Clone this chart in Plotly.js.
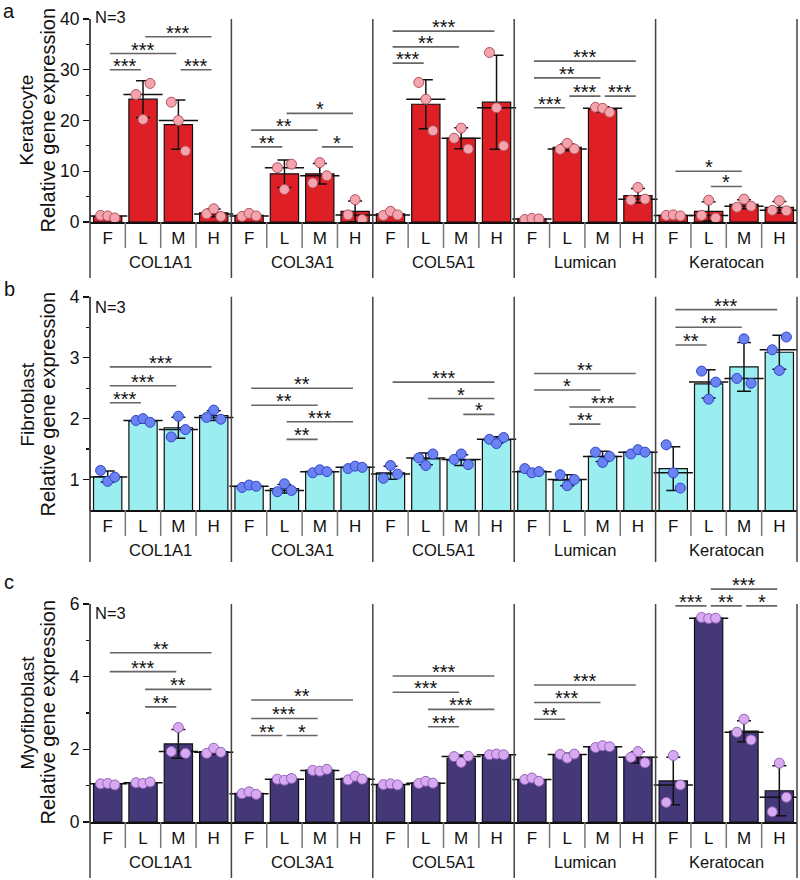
<!DOCTYPE html>
<html><head><meta charset="utf-8">
<script src="https://cdn.plot.ly/plotly-3.0.1.min.js"></script>
<style>html,body{margin:0;padding:0;background:#fff}#chart{width:800px;height:880px}</style>
</head><body><div id="chart"></div>
<script>
// ---------------- DATA ----------------
const genes = ['COL1A1', 'COL3A1', 'COL5A1', 'Lumican', 'Keratocan'];
const groups = ['F', 'L', 'M', 'H'];

// bar heights (mean), in order gene x group
const keratocyteMean = [1.1, 24.2, 19.2, 1.8,  1.3, 9.5, 9.5, 2.1,  1.6, 23.2, 16.5, 23.6,  0.6, 14.7, 22.2, 5.2,  1.3, 2.1, 3.5, 2.9];
const keratocytePoints = [
  [1.3, 1.2, 0.8], [25.1, 20.2, 27.3], [23.6, 20.0, 14.0], [1.6, 2.6, 1.1],
  [1.1, 1.7, 1.2], [10.7, 6.4, 11.4], [7.7, 11.7, 9.1], [1.4, 4.4, 0.5],
  [1.3, 2.1, 1.4], [27.5, 24.2, 18.0], [16.5, 18.5, 14.4], [33.4, 22.5, 15.0],
  [0.5, 0.7, 0.6], [14.3, 15.5, 14.4], [22.6, 22.4, 21.6], [4.3, 6.8, 4.5],
  [1.3, 1.4, 1.2], [1.3, 4.3, 0.8], [2.9, 4.5, 3.1], [2.3, 4.2, 2.2]
];
// [gene, from group, to group, bracket height, label]
const keratocyteSig = [
  [0, 0, 1, 30.0, '***'], [0, 0, 2, 33.2, '***'], [0, 1, 3, 36.5, '***'], [0, 2, 3, 30.0, '***'],
  [1, 0, 1, 14.8, '**'], [1, 0, 2, 18.1, '**'], [1, 1, 3, 21.4, '*'], [1, 2, 3, 14.8, '*'],
  [2, 0, 1, 31.3, '***'], [2, 0, 2, 34.5, '**'], [2, 0, 3, 37.6, '***'],
  [3, 0, 1, 22.5, '***'], [3, 1, 2, 24.8, '***'], [3, 2, 3, 24.8, '***'], [3, 0, 2, 28.4, '**'], [3, 0, 3, 31.7, '***'],
  [4, 0, 2, 10.0, '*'], [4, 1, 2, 7.0, '*']
];

const fibroblastMean = [1.05, 1.96, 1.85, 2.05,  0.89, 0.85, 1.135, 1.20,  1.11, 1.34, 1.32, 1.65,  1.14, 0.99, 1.38, 1.45,  1.18, 2.57, 2.85, 3.09];
const fibroblastPoints = [
  [1.15, 0.97, 1.04], [1.97, 2.00, 1.94], [1.70, 2.04, 1.82], [2.02, 2.14, 1.99],
  [0.87, 0.91, 0.89], [0.80, 0.93, 0.82], [1.11, 1.16, 1.13], [1.18, 1.22, 1.20],
  [1.02, 1.23, 1.09], [1.355, 1.23, 1.42], [1.33, 1.42, 1.245], [1.66, 1.59, 1.69],
  [1.18, 1.11, 1.13], [1.08, 0.90, 1.00], [1.45, 1.28, 1.38], [1.42, 1.49, 1.45],
  [1.57, 1.11, 0.86], [2.78, 2.32, 2.60], [2.66, 3.31, 2.58], [3.13, 2.79, 3.34]
];
const fibroblastSig = [
  [0, 0, 1, 2.26, '***'], [0, 0, 2, 2.54, '***'], [0, 0, 3, 2.85, '***'],
  [1, 0, 3, 2.50, '**'], [1, 0, 2, 2.22, '**'], [1, 1, 3, 1.95, '***'], [1, 1, 2, 1.66, '**'],
  [2, 0, 3, 2.60, '***'], [2, 1, 3, 2.33, '*'], [2, 2, 3, 2.07, '*'],
  [3, 0, 3, 2.74, '**'], [3, 0, 2, 2.47, '*'], [3, 1, 3, 2.19, '***'], [3, 1, 2, 1.91, '**'],
  [4, 0, 3, 3.79, '***'], [4, 0, 2, 3.50, '**'], [4, 0, 1, 3.21, '**']
];

const myofibroblastMean = [1.04, 1.08, 2.15, 1.94,  0.79, 1.175, 1.43, 1.20,  1.03, 1.08, 1.75, 1.85,  1.16, 1.83, 2.07, 1.78,  1.13, 5.61, 2.50, 0.86];
const myofibroblastPoints = [
  [1.05, 1.06, 1.02], [1.08, 1.06, 1.10], [1.94, 2.60, 1.89], [1.89, 2.03, 1.92],
  [0.78, 0.83, 0.76], [1.18, 1.15, 1.20], [1.42, 1.40, 1.45], [1.16, 1.26, 1.18],
  [1.03, 1.05, 1.02], [1.06, 1.12, 1.07], [1.80, 1.64, 1.81], [1.85, 1.87, 1.85],
  [1.17, 1.21, 1.12], [1.86, 1.76, 1.87], [2.05, 2.10, 2.07], [1.78, 1.94, 1.63],
  [0.54, 1.83, 1.02], [5.63, 5.60, 5.61], [2.47, 2.83, 2.26], [0.28, 1.62, 0.68]
];
const myofibroblastSig = [
  [0, 0, 3, 4.66, '**'], [0, 0, 2, 4.14, '***'], [0, 1, 3, 3.65, '**'], [0, 1, 2, 3.17, '**'],
  [1, 0, 3, 3.36, '**'], [1, 0, 2, 2.85, '***'], [1, 0, 1, 2.38, '**'], [1, 1, 2, 2.38, '*'],
  [2, 0, 3, 4.02, '***'], [2, 0, 2, 3.57, '***'], [2, 1, 3, 3.10, '***'], [2, 1, 2, 2.62, '***'],
  [3, 0, 3, 3.77, '***'], [3, 0, 2, 3.29, '***'], [3, 0, 1, 2.83, '**'],
  [4, 1, 3, 6.41, '***'], [4, 0, 1, 5.95, '***'], [4, 1, 2, 5.95, '**'], [4, 2, 3, 5.95, '*']
];

// ---------------- STYLE / LAYOUT ----------------
const W = 800, H = 880, ML = 90, MR = 3;
const py = p => 1 - p / H;
const pxr = p => (p - ML) / (W - ML - MR);
const FONT = 'Liberation Sans, Arial, Helvetica, sans-serif';
const INK = '#111111';
const jitter = [-0.2, 0, 0.2];

const panelStyle = [
  {key: 'a', cell: 'Keratocyte', range: [0, 42.5], axisTop: 40, major: [0, 10, 20, 30, 40], minor: [5, 15, 25, 35],
   bottomPx: 222, topPx: 6.3, stripPx: 278, titlePx: 120, letterPx: 11, nPx: 17,
   bar: '#df1f26', ptFill: '#f4a4ad', ptLine: '#b4505c'},
  {key: 'b', cell: 'Fibroblast', range: [0.5, 4.12], axisTop: 4, major: [1, 2, 3, 4], minor: [1.5, 2.5, 3.5],
   bottomPx: 510, topPx: 289.5, stripPx: 562, titlePx: 404, letterPx: 289, nPx: 307,
   bar: '#9aeef0', ptFill: '#6b82f2', ptLine: '#3446c8'},
  {key: 'c', cell: 'Myofibroblast', range: [0, 7], axisTop: 6, major: [0, 2, 4, 6], minor: [1, 3, 5],
   bottomPx: 822, topPx: 567.7, stripPx: 878, titlePx: 712, letterPx: 582, nPx: 613,
   bar: '#443878', ptFill: '#d8a8f0', ptLine: '#9064b8'}
];
const panelData = [
  [keratocyteMean, keratocytePoints, keratocyteSig],
  [fibroblastMean, fibroblastPoints, fibroblastSig],
  [myofibroblastMean, myofibroblastPoints, myofibroblastSig]
];

function sd(a) {
  const m = a.reduce((s, v) => s + v, 0) / a.length;
  return Math.sqrt(a.reduce((s, v) => s + (v - m) * (v - m), 0) / (a.length - 1));
}
function median(a) {
  const b = a.slice().sort((p, q) => p - q);
  return b[Math.floor(b.length / 2)];
}

const traces = [];
const shapes = [];
const annotations = [];
const layout = {
  width: W, height: H,
  margin: {l: ML, r: MR, t: 0, b: 0, pad: 0},
  paper_bgcolor: '#ffffff', plot_bgcolor: 'rgba(0,0,0,0)',
  showlegend: false, barmode: 'overlay',
  font: {family: FONT, color: INK, size: 16}
};

panelStyle.forEach((s, k) => {
  const sfx = k ? String(k + 1) : '';
  const xa = 'x' + sfx, ya = 'y' + sfx;
  const [mean, pts, sig] = panelData[k];
  const centers = mean.map((_, i) => i + 0.5);
  const letters = mean.map((_, i) => groups[i % 4]);

  traces.push({
    type: 'bar', x: centers, y: mean, width: 0.8, xaxis: xa, yaxis: ya,
    marker: {color: s.bar, line: {color: INK, width: 1.2}},
    error_y: {type: 'data', array: pts.map(sd), visible: true, color: INK, thickness: 1.5, width: 7},
    hoverinfo: 'skip'
  });
  traces.push({
    type: 'scatter', mode: 'markers', x: centers, y: pts.map(median), xaxis: xa, yaxis: ya,
    marker: {symbol: 'line-ew', size: 28, color: INK, line: {color: INK, width: 1.5}},
    hoverinfo: 'skip'
  });
  const qx = [], qy = [];
  pts.forEach((arr, i) => arr.forEach((v, j) => { qx.push(centers[i] + jitter[j]); qy.push(v); }));
  traces.push({
    type: 'scatter', mode: 'markers', x: qx, y: qy, xaxis: xa, yaxis: ya,
    marker: {symbol: 'circle', size: 10, color: s.ptFill, line: {color: s.ptLine, width: 1}},
    hoverinfo: 'skip'
  });

  const yDom = [py(s.bottomPx), py(s.topPx)];
  layout['xaxis' + sfx] = {
    domain: [0, 1], range: [0, 20], anchor: ya,
    tickmode: 'array', tickvals: centers, ticktext: letters, ticks: '',
    tickfont: {family: FONT, size: 17, color: INK},
    showline: true, linecolor: INK, linewidth: 1.5,
    showgrid: false, zeroline: false, fixedrange: true
  };
  layout['yaxis' + sfx] = {
    domain: yDom, range: s.range, anchor: xa,
    tickmode: 'array', tickvals: s.major, ticks: 'outside', ticklen: 6, tickwidth: 1.5, tickcolor: INK,
    minor: {tickmode: 'array', tickvals: s.minor, ticks: 'outside', ticklen: 3.5, tickwidth: 1.2, tickcolor: INK, showgrid: false},
    tickfont: {family: FONT, size: 17.5, color: INK},
    showline: false, showgrid: false, zeroline: false, fixedrange: true
  };

  // y axis line
  shapes.push({type: 'line', xref: 'paper', yref: ya, x0: 0, x1: 0, y0: s.range[0], y1: s.axisTop,
               line: {color: INK, width: 1.5}});
  // left & right edges of the category strip, right frame line
  shapes.push({type: 'line', xref: 'paper', yref: 'paper', x0: 0, x1: 0, y0: py(s.bottomPx), y1: py(s.stripPx),
               line: {color: '#444', width: 1.5}});
  shapes.push({type: 'line', xref: 'paper', yref: ya, x0: 1, x1: 1, y0: s.range[0], y1: s.axisTop,
               line: {color: '#444', width: 1.5}});
  shapes.push({type: 'line', xref: 'paper', yref: 'paper', x0: 1, x1: 1, y0: py(s.bottomPx), y1: py(s.stripPx),
               line: {color: '#444', width: 1.5}});
  // group separators
  for (let g = 1; g < genes.length; g++) {
    shapes.push({type: 'line', xref: xa, yref: ya, x0: 4 * g, x1: 4 * g, y0: s.range[0], y1: s.axisTop,
                 line: {color: '#444', width: 1.5}});
    shapes.push({type: 'line', xref: xa, yref: 'paper', x0: 4 * g, x1: 4 * g, y0: py(s.bottomPx), y1: py(s.stripPx),
                 line: {color: '#444', width: 1.5}});
  }
  // small separators between group letters
  for (let g = 0; g < genes.length; g++) {
    for (let b = 1; b < 4; b++) {
      shapes.push({type: 'line', xref: xa, yref: 'paper', x0: 4 * g + b, x1: 4 * g + b,
                   y0: py(s.bottomPx), y1: py(s.bottomPx + 26), line: {color: '#777', width: 1.5}});
    }
    annotations.push({xref: xa, yref: 'paper', x: 4 * g + 2, y: py(s.bottomPx + 40), text: genes[g],
                      showarrow: false, xanchor: 'center', yanchor: 'middle',
                      font: {family: FONT, size: 16.5, color: INK}});
  }
  // significance brackets
  sig.forEach(([g, i, j, lev, lab]) => {
    const x0 = 4 * g + i + 0.5 + 0.06, x1 = 4 * g + j + 0.5 - 0.06;
    shapes.push({type: 'line', xref: xa, yref: ya, x0: x0, x1: x1, y0: lev, y1: lev,
                 line: {color: '#666', width: 1.6}});
    annotations.push({xref: xa, yref: ya, x: (x0 + x1) / 2, y: lev, text: lab, showarrow: false,
                      xanchor: 'center', yanchor: 'middle', yshift: 4,
                      font: {family: FONT, size: 20, color: INK}});
  });
  // titles & labels
  annotations.push({xref: 'paper', yref: 'paper', x: pxr(47.5), y: py(s.titlePx), text: 'Relative gene expression',
                    textangle: -90, showarrow: false, xanchor: 'center', yanchor: 'middle',
                    font: {family: FONT, size: 20, color: INK}});
  annotations.push({xref: 'paper', yref: 'paper', x: pxr(26.5), y: py(s.titlePx), text: s.cell,
                    textangle: -90, showarrow: false, xanchor: 'center', yanchor: 'middle',
                    font: {family: FONT, size: 19, color: INK}});
  annotations.push({xref: 'paper', yref: 'paper', x: pxr(9), y: py(s.letterPx), text: s.key,
                    showarrow: false, xanchor: 'center', yanchor: 'middle',
                    font: {family: FONT, size: 20, color: INK}});
  annotations.push({xref: 'paper', yref: 'paper', x: pxr(93), y: py(s.nPx), text: 'N=3',
                    showarrow: false, xanchor: 'left', yanchor: 'middle',
                    font: {family: FONT, size: 16.5, color: INK}});
});

layout.shapes = shapes;
layout.annotations = annotations;

Plotly.newPlot('chart', traces, layout, {displayModeBar: false, staticPlot: true});
</script>
</body></html>
